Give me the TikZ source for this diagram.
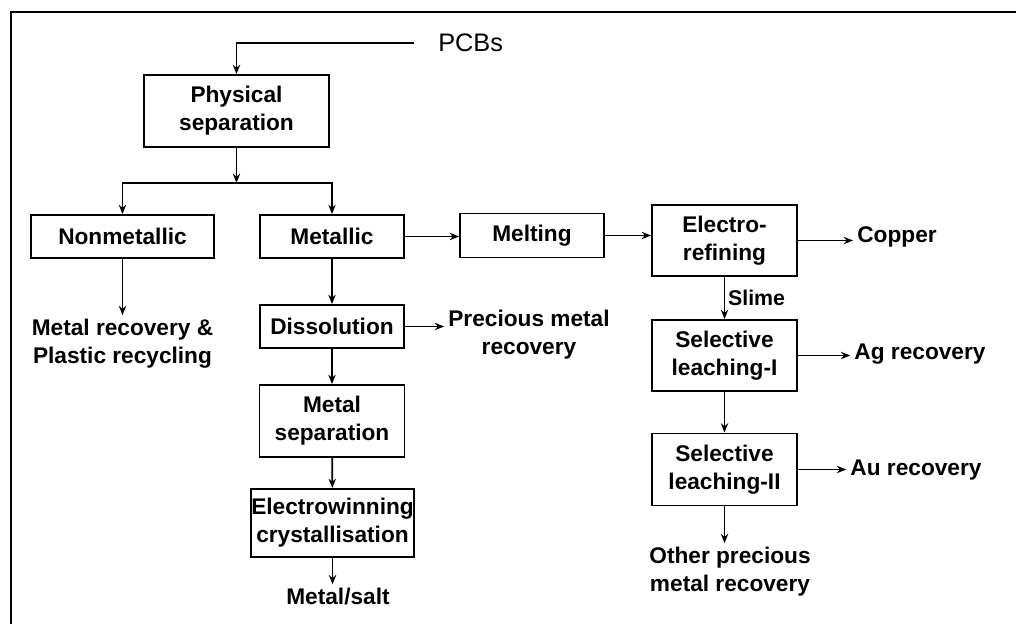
\documentclass[tikz,border=0pt]{standalone}
\usepackage{fontspec}
\setmainfont{Liberation Sans}
\usetikzlibrary{arrows.meta,positioning}

\tikzset{
  box/.style={draw, line width=1.4pt, align=center, inner sep=0pt,
    font=\fontsize{17}{21}\selectfont\bfseries},
  outtext/.style={align=center, inner sep=3pt,
    font=\fontsize{17}{21}\selectfont\bfseries},
  arr/.style={line width=1.4pt, -{Stealth[length=7pt,width=5.5pt]}},
}

\begin{document}
\begin{tikzpicture}[x=0.75pt,y=-0.75pt]
        \useasboundingbox (0,0) rectangle (1016,624);
        % frame, only top and left edge show
        \draw[line width=1.5pt] (1016,12) -- (11,12) -- (11,624);
        % left part
        \node[inner sep=0pt, anchor=west, font=\fontsize{19}{23}\selectfont] (pcbs) at (438,43) {PCBs};
        \node[box, minimum width=138.75pt, minimum height=54pt] (phys) at (236.5,111) {Physical\\separation};
        \coordinate (split) at (236.5,183);
        \node[box, minimum width=137.25pt, minimum height=32.25pt] (nonmet) at (122.5,236.5) {Nonmetallic};
        \node[box, minimum width=108pt, minimum height=32.25pt] (metal) at (332,236.5) {Metallic};
        \node[outtext] (nmrec) at (122.5,344) {Metal recovery \&\\Plastic recycling};
        \node[box, minimum width=108pt, minimum height=32.25pt] (diss) at (332,326.5) {Dissolution};
        \node[outtext] (prec) at (529,335) {Precious metal\\recovery};
        \node[box, minimum width=108.75pt, minimum height=54pt] (msep) at (332,421) {Metal\\separation};
        \node[box, minimum width=122.25pt, minimum height=51pt] (ewin) at (332.5,523) {Electrowinning\\crystallisation};
        \node[outtext] (msalt) at (338,597) {Metal/salt};
        % right part
        \node[box, minimum width=108pt, minimum height=33pt] (melt) at (532,235.5) {Melting};
        \node[box, minimum width=108.75pt, minimum height=53.25pt] (eref) at (724.5,240.5) {Electro-\\refining};
        \node[outtext] (copper) at (897,237) {Copper};
        \node[box, minimum width=108.75pt, minimum height=53.25pt] (sl1) at (724.5,355.5) {Selective\\leaching-I};
        \node[outtext] (ag) at (920,354) {Ag recovery};
        \node[box, minimum width=108.75pt, minimum height=54pt] (sl2) at (724.5,469.5) {Selective\\leaching-II};
        \node[outtext] (au) at (916,470) {Au recovery};
        \node[outtext] (other) at (730,572) {Other precious\\metal recovery};
        % connectors
        \draw[arr, shorten <=18pt] (pcbs.west) -| (phys.north);
        \draw[arr] (phys) -- (split);
        \draw[arr] (split) -| (nonmet);
        \draw[arr] (split) -| (metal);
        \draw[arr] (nonmet.south) -- (nonmet.south |- nmrec.north);
        \draw[arr] (metal) -- (diss);
        \draw[arr] (diss.east) -- (diss.east -| prec.west);
        \draw[arr] (diss) -- (msep);
        \draw[arr] (msep) -- (ewin);
        \draw[arr] (ewin.south) -- (ewin.south |- msalt.north);
        \draw[arr] (metal.east) -- (metal.east -| melt.west);
        \draw[arr] (melt.east) -- (melt.east -| eref.west);
        \draw[arr] (eref.east) -- (eref.east -| copper.west);
        \draw[arr] (eref) -- node[right, inner sep=2pt, font=\fontsize{16}{19}\selectfont\bfseries] {Slime} (sl1);
        \draw[arr] (sl1.east) -- (sl1.east -| ag.west);
        \draw[arr] (sl1) -- (sl2);
        \draw[arr] (sl2.east) -- (sl2.east -| au.west);
        \draw[arr] (sl2.south) -- (sl2.south |- other.north);
\end{tikzpicture}
\end{document}
